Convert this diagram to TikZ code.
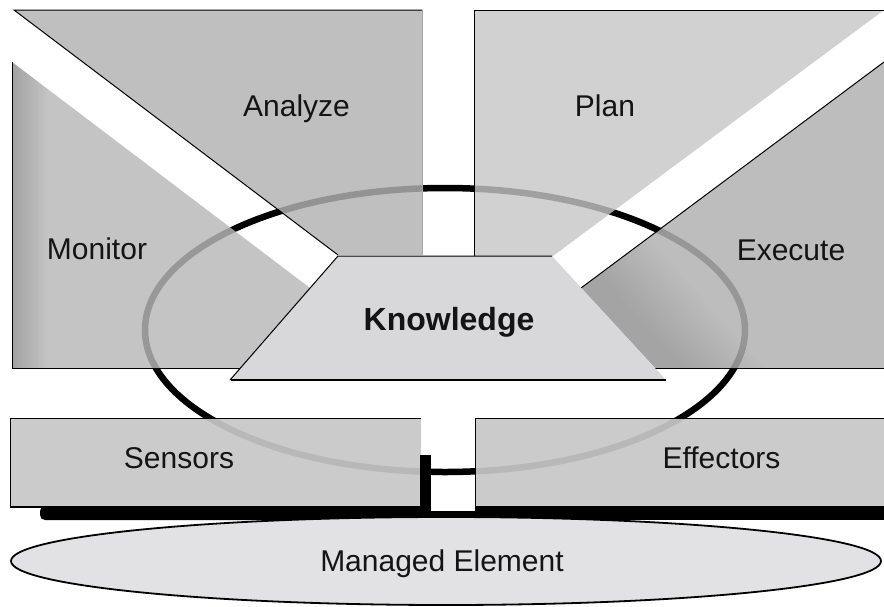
\documentclass[tikz,border=0pt]{standalone}
\usepackage{fontspec}
\setmainfont{Liberation Sans}
\definecolor{agray}{gray}{0.70}
\definecolor{pgray}{gray}{0.775}
\definecolor{mdark}{gray}{0.56}
\definecolor{mlight}{gray}{0.72}
\definecolor{edark}{gray}{0.58}
\definecolor{elight}{gray}{0.70}
\definecolor{kgray}{RGB}{216,216,218}
\definecolor{sgray}{gray}{0.78}
\definecolor{megray}{RGB}{226,226,228}
\definecolor{txt}{RGB}{20,20,20}
\pgfdeclarehorizontalshading{monsh}{100bp}{color(0bp)=(mdark); color(25bp)=(mdark); color(31bp)=(mlight); color(100bp)=(mlight)}
\pgfdeclarehorizontalshading{exsh}{100bp}{color(0bp)=(edark); color(27bp)=(edark); color(38bp)=(elight); color(100bp)=(elight)}
\tikzset{
  lbl/.style={anchor=base, text=txt, font=\fontsize{30}{36}\selectfont, inner sep=0pt},
  edge/.style={draw=black, line width=1pt},
  softedge/.style={draw=gray!70, line width=0.8pt},
  ring/.style={draw=black, line width=6.5pt},
}
\begin{document}
\begin{tikzpicture}[x=1pt,y=-1pt]
\useasboundingbox (0,0) rectangle (884,606);
% the loop behind everything
\draw[ring] (445,330) ellipse [x radius=300, y radius=142];
% Analyze
\fill[agray, fill opacity=0.83] (14,10) -- (422,10) -- (422,255) -- (338,255) -- cycle;
\draw[edge] (422,10) -- (14,10) -- (338,255);
\draw[softedge] (422,10) -- (422,255);
% Plan
\fill[pgray, fill opacity=0.81] (474,10) -- (884,10) -- (553,256) -- (474,256) -- cycle;
\draw[edge] (884,10) -- (474,10) -- (474,256);
% Monitor
\shade[shading=monsh, fill opacity=0.83] (12,62) -- (310,288) -- (240.5,368) -- (12,368) -- cycle;
\draw[edge] (12,62) -- (12,368) -- (241,368);
% Execute
\shade[shading=exsh, shading angle=42, fill opacity=0.85] (884,62) -- (581,288) -- (655,368) -- (884,368) -- cycle;
\draw[edge] (884,62) -- (581,288);
\draw[edge] (655,368) -- (884,368);
% Knowledge
\fill[kgray] (338,256) -- (552,256) -- (666,380) -- (230,380) -- cycle;
\draw[edge] (552,256) -- (338,256) -- (230,380);
\draw[black, line width=2.5pt] (231,380) -- (666,380);
% Sensors
\fill[sgray, fill opacity=0.93] (10,418) rectangle (421,507);
\draw[edge] (421,418) -- (10,418) -- (10,507);
% Effectors
\fill[sgray, fill opacity=0.93] (475,418) rectangle (884,507);
\draw[edge] (884,418) -- (475,418) -- (475,507);
% shadows below the two boxes
\fill[black, rounded corners=5pt] (40,506) -- (431,506) -- (431,520) -- (40,520) -- cycle;
\fill[black] (9.5,506) rectangle (45,508);
\fill[black] (474.5,506) rectangle (884,520);
\fill[black] (420,455) rectangle (431,512);
\fill[black] (430,511) rectangle (476,520);
% Managed element
\draw[fill=megray, line width=1.8pt] (446,561) ellipse [x radius=435, y radius=44];
% labels
\node[lbl] (analyze) at (296.5,116) {Analyze};
\node[lbl] (plan) at (605,116) {Plan};
\node[lbl] (monitor) at (97,259) {Monitor};
\node[lbl] (execute) at (791,260) {Execute};
\node[lbl, font=\fontsize{32}{36}\selectfont\bfseries] (knowledge) at (449,330) {Knowledge};
\node[lbl] (sensors) at (179,468) {Sensors};
\node[lbl] (effectors) at (721.5,468) {Effectors};
\node[lbl] (managed) at (442,571) {Managed Element};
\end{tikzpicture}
\end{document}
